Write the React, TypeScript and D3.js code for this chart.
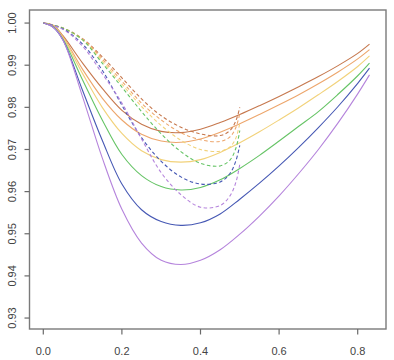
import React from "react";
import * as d3 from "d3";

const xSolid = [0, 0.025, 0.05, 0.1, 0.15, 0.2, 0.25, 0.3, 0.35, 0.4, 0.45, 0.5, 0.55, 0.6, 0.65, 0.7, 0.75, 0.8, 0.83];
const purpleSolid = [1, 0.999, 0.996, 0.9825, 0.968, 0.9558, 0.9478, 0.9437, 0.9427, 0.9437, 0.9462, 0.9499, 0.9542, 0.959, 0.9643, 0.97, 0.9763, 0.9832, 0.9877];
const blueSolid = [1, 0.999, 0.996, 0.984, 0.9722, 0.9618, 0.9557, 0.9529, 0.952, 0.9526, 0.9547, 0.9582, 0.962, 0.9661, 0.9705, 0.9752, 0.9802, 0.9857, 0.9893];
const greenSolid = [1, 0.9992, 0.9962, 0.9865, 0.977, 0.9688, 0.9638, 0.9612, 0.9604, 0.961, 0.9628, 0.9655, 0.9686, 0.972, 0.9755, 0.979, 0.9831, 0.9875, 0.9905];
const yellowSolid = [1, 0.9993, 0.9965, 0.988, 0.98, 0.9738, 0.9697, 0.9676, 0.967, 0.9676, 0.9693, 0.9716, 0.9742, 0.977, 0.9799, 0.983, 0.9862, 0.9897, 0.9922];
const orangeSolid = [1, 0.9994, 0.9968, 0.989, 0.9822, 0.977, 0.9736, 0.972, 0.9717, 0.9725, 0.9741, 0.9761, 0.9783, 0.9806, 0.983, 0.9856, 0.9884, 0.9915, 0.9937];
const brownSolid = [1, 0.9995, 0.997, 0.9905, 0.9845, 0.9793, 0.976, 0.9743, 0.974, 0.9748, 0.9764, 0.9783, 0.9804, 0.9826, 0.9849, 0.9873, 0.9899, 0.9928, 0.995];

const xDashed = [0, 0.05, 0.1, 0.15, 0.2, 0.25, 0.3, 0.35, 0.4, 0.45, 0.475, 0.49, 0.5];
const purpleDashed = [1, 0.9985, 0.9945, 0.988, 0.981, 0.9725, 0.9645, 0.9593, 0.9563, 0.9567, 0.959, 0.9622, 0.9665];
const blueDashed = [1, 0.9986, 0.995, 0.9888, 0.9805, 0.9728, 0.9672, 0.9635, 0.9618, 0.9623, 0.9643, 0.9673, 0.971];
const greenDashed = [1, 0.9988, 0.996, 0.9905, 0.9848, 0.979, 0.9737, 0.9695, 0.9667, 0.9661, 0.9675, 0.9703, 0.9745];
const yellowDashed = [1, 0.9988, 0.996, 0.991, 0.9855, 0.9802, 0.9757, 0.9722, 0.97, 0.9696, 0.9706, 0.9727, 0.9763];
const orangeDashed = [1, 0.9988, 0.9962, 0.9915, 0.9862, 0.981, 0.977, 0.974, 0.9723, 0.9719, 0.973, 0.9752, 0.9786];
const brownDashed = [1, 0.9988, 0.9963, 0.992, 0.987, 0.982, 0.978, 0.9753, 0.9737, 0.9733, 0.9745, 0.9768, 0.98];

const xTicks = [0, 0.2, 0.4, 0.6, 0.8];
const yTicks = [0.93, 0.94, 0.95, 0.96, 0.97, 0.98, 0.99, 1.0];

const colors = {
  purple: "#b584dc",
  blue: "#4658b4",
  green: "#66c466",
  yellow: "#f2d27a",
  orange: "#eda66c",
  brown: "#c6784e",
};

const series = [
  { x: xSolid, y: brownSolid, color: colors.brown, dashed: false },
  { x: xSolid, y: orangeSolid, color: colors.orange, dashed: false },
  { x: xSolid, y: yellowSolid, color: colors.yellow, dashed: false },
  { x: xSolid, y: greenSolid, color: colors.green, dashed: false },
  { x: xSolid, y: blueSolid, color: colors.blue, dashed: false },
  { x: xSolid, y: purpleSolid, color: colors.purple, dashed: false },
  { x: xDashed, y: brownDashed, color: colors.brown, dashed: true },
  { x: xDashed, y: orangeDashed, color: colors.orange, dashed: true },
  { x: xDashed, y: yellowDashed, color: colors.yellow, dashed: true },
  { x: xDashed, y: greenDashed, color: colors.green, dashed: true },
  { x: xDashed, y: blueDashed, color: colors.blue, dashed: true },
  { x: xDashed, y: purpleDashed, color: colors.purple, dashed: true },
];

export default function App() {
  const W = 394, H = 360;
  const left = 29.5, right = 386, top = 10, bottom = 329;
  const x = d3.scaleLinear().domain([-0.0351, 0.872]).range([left, right]);
  const y = d3.scaleLinear().domain([0.9274, 1.0031]).range([bottom, top]);
  const line = d3
    .line<[number, number]>()
    .x((d) => x(d[0]))
    .y((d) => y(d[1]))
    .curve(d3.curveCatmullRom.alpha(0.5));
  const font = "Liberation Sans, Arial, sans-serif";
  return (
    <svg width={W} height={H} style={{ position: "absolute", left: 0, top: 0, background: "#fff" }}>
      <rect x={0} y={0} width={W} height={H} fill="#fff" />
      {series.map((s, i) => (
        <path
          key={i}
          d={line(s.x.map((v, j) => [v, s.y[j]] as [number, number])) || ""}
          fill="none"
          stroke={s.color}
          strokeWidth={1.1}
          strokeDasharray={s.dashed ? "3.5,2.5" : undefined}
        />
      ))}
      <rect x={left} y={top} width={right - left} height={bottom - top} fill="none" stroke="#7a7a7a" strokeWidth={1.4} />
      {xTicks.map((t) => (
        <g key={"x" + t}>
          <line x1={x(t)} x2={x(t)} y1={bottom} y2={bottom + 5.5} stroke="#6a6a6a" strokeWidth={1.2} />
          <text x={x(t)} y={355} textAnchor="middle" fontFamily={font} fontSize={11} fill="#444">
            {t.toFixed(1)}
          </text>
        </g>
      ))}
      {yTicks.map((t) => (
        <g key={"y" + t}>
          <line x1={left - 5} x2={left} y1={y(t)} y2={y(t)} stroke="#6a6a6a" strokeWidth={1.2} />
          <text
            transform={`translate(16,${y(t)}) rotate(-90)`}
            textAnchor="middle"
            fontFamily={font}
            fontSize={11}
            fill="#444"
          >
            {t.toFixed(2)}
          </text>
        </g>
      ))}
    </svg>
  );
}
